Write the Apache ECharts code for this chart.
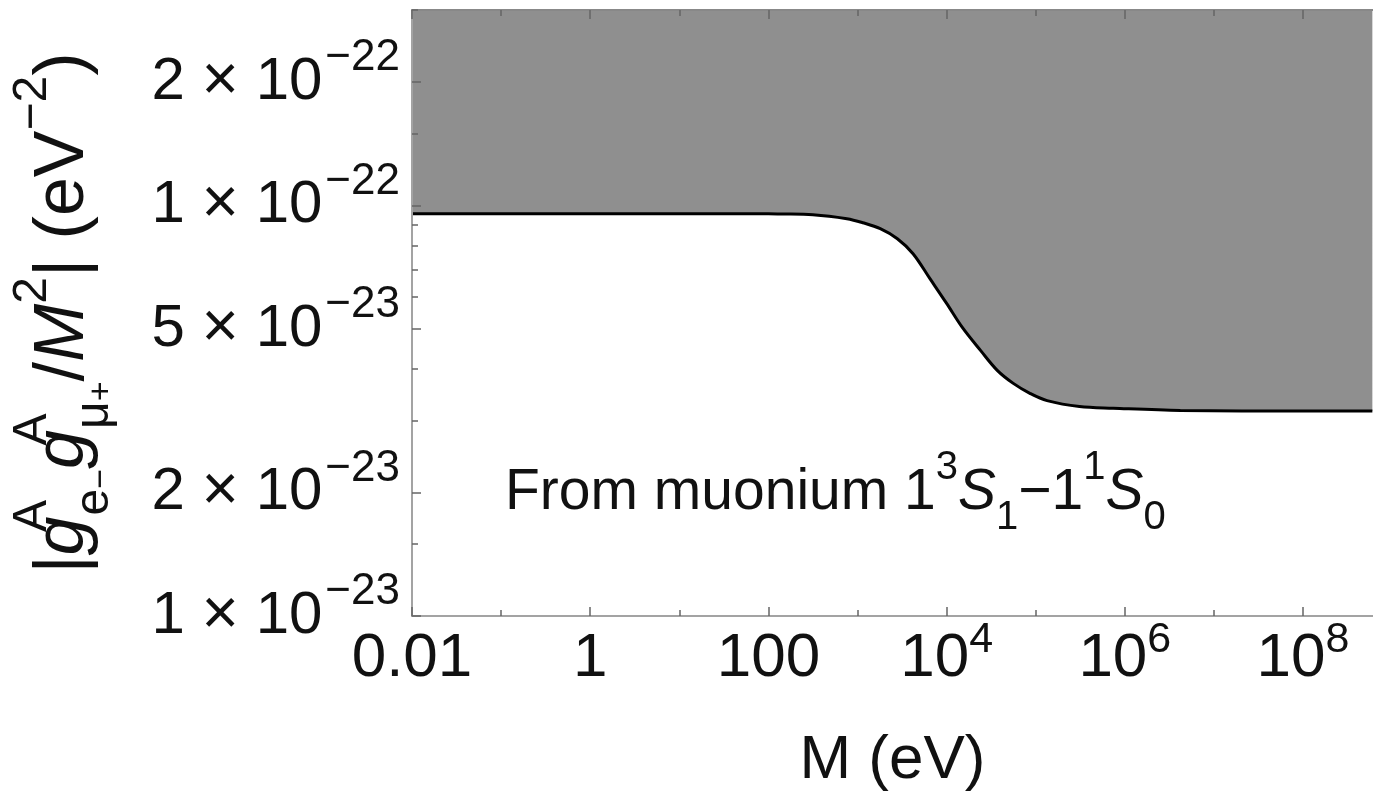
<!DOCTYPE html>
<html lang="en">
<head>
    <meta charset="UTF-8">
    <script src="https://cdn.jsdelivr.net/npm/echarts@6/dist/echarts.min.js"></script>
    <title>muonium bound</title>
    <style>
        html, body { margin: 0; padding: 0; background: #fff; }
    </style>
</head>
<body>
<div id="main" style="width: 1373px;height:804px;"></div>
<script type="text/javascript">
    // 曲线数据: M (eV) 和 |g g / M^2|, 单位 1e-23 eV^-2
    var massEV = [0.01, 1, 100, 135, 316, 760, 1150, 1800, 2800, 4200, 6500, 1.0e4, 1.5e4, 2.4e4,
        3.7e4, 5.6e4, 8.6e4, 1.34e5, 3.1e5, 7.4e5, 4.2e6, 1e8, 6e8];
    var boundE23 = [9.56, 9.56, 9.56, 9.55, 9.51, 9.30, 9.09, 8.79, 8.31,
        7.64, 6.64, 5.78, 5.05, 4.44, 3.97, 3.69, 3.49, 3.35,
        3.24, 3.21, 3.17, 3.16, 3.16];

    // 刻度
    var xMajor = [0.01, 1, 100, 1e4, 1e6, 1e8];
    var xMajorLabels = ['0.01', '1', '100', '10^4', '10^6', '10^8'];
    var xMinor = [0.1, 10, 1000, 1e5, 1e7];
    var yMajor = [1, 2, 5, 10, 20];              // 单位 1e-23
    var yMantissa = ['1', '2', '5', '1', '2'];
    var yExponent = ['\u221223', '\u221223', '\u221223', '\u221222', '\u221222'];
    var yMinor = [1.5, 3, 4, 6, 7, 8, 9, 15, 30];

    var xMin = 0.01, xMax = 6.1e8;
    var yMin = 1, yMax = 30;

    var font = 'Liberation Sans, Arial, sans-serif';
    var frameColor = '#a3a3a3';
    var tickColor = '#666';

    function findIndex(arr, v) {
        for (var i = 0; i < arr.length; i++) {
            if (Math.abs(arr[i] - v) / arr[i] < 1e-6) return i;
        }
        return -1;
    }

    var yRich = {
        n: {fontSize: 60, lineHeight: 92, fontFamily: font, color: '#111'},
        x: {fontSize: 64, lineHeight: 92, fontFamily: font, color: '#111'},
        s: {fontSize: 44, lineHeight: 44, verticalAlign: 'top', padding: [0, 0, 0, 3], fontFamily: font, color: '#111'}
    };
    var xRich = {
        n: {fontSize: 62, lineHeight: 80, fontFamily: font, color: '#111'},
        s: {fontSize: 43, lineHeight: 40, verticalAlign: 'top', fontFamily: font, color: '#111'}
    };

    function baseAxis(extra) {
        var a = {
            type: 'log',
            z: 5,
            axisLine: {show: false, onZero: false, lineStyle: {color: frameColor, width: 2}},
            axisTick: {show: true, inside: true, length: 9, lineStyle: {color: tickColor, width: 1.5}},
            axisLabel: {show: false},
            splitLine: {show: false},
            minorTick: {show: false}
        };
        for (var k in extra) a[k] = extra[k];
        return a;
    }

    var chart = echarts.init(document.getElementById('main'));

    var option = {
        animation: false,
        backgroundColor: '#fff',
        title: {
            left: 500,
            top: 443,
            text: 'From muonium 1{sup|3}{it|S}{sub|1}\u22121{sup|1}{it|S}{sub|0}',
            textStyle: {
                fontSize: 57, fontWeight: 'normal', fontFamily: font, color: '#111',
                lineHeight: 90,
                rich: {
                    sup: {fontSize: 40, lineHeight: 44, verticalAlign: 'top', fontFamily: font, color: '#111'},
                    sub: {fontSize: 40, lineHeight: 40, verticalAlign: 'bottom', fontFamily: font, color: '#111'},
                    it: {fontSize: 57, lineHeight: 90, fontStyle: 'italic', fontFamily: font, color: '#111'}
                }
            }
        },
        grid: {left: 412, top: 10, right: 0, bottom: 188, containLabel: false, outerBoundsMode: 'none'},
        xAxis: [
            baseAxis({
                position: 'bottom', min: xMin, max: xMax,
                axisLine: {show: true, onZero: false, lineStyle: {color: frameColor, width: 2}},
                axisTick: {show: true, inside: true, length: 9, customValues: xMajor, lineStyle: {color: tickColor, width: 1.5}},
                axisLabel: {
                    show: true, margin: 3, customValues: xMajor,
                    formatter: function (v) {
                        var s = xMajorLabels[findIndex(xMajor, v)];
                        if (s.indexOf('^') > 0) {
                            var p = s.split('^');
                            return '{n|' + p[0] + '}{s|' + p[1] + '}';
                        }
                        return '{n|' + s + '}';
                    },
                    rich: xRich
                },
                name: 'M (eV)', nameLocation: 'middle', nameGap: 114,
                nameTextStyle: {fontSize: 62, fontFamily: font, color: '#111', verticalAlign: 'top'}
            }),
            baseAxis({
                position: 'bottom', min: xMin, max: xMax,
                axisTick: {show: true, inside: true, length: 6, customValues: xMinor, lineStyle: {color: tickColor, width: 1.5}}
            }),
            baseAxis({
                position: 'top', min: xMin, max: xMax,
                axisLine: {show: true, onZero: false, lineStyle: {color: '#888', width: 2}},
                axisTick: {show: true, inside: true, length: 9, customValues: xMajor, lineStyle: {color: tickColor, width: 1.5}}
            }),
            baseAxis({
                position: 'top', min: xMin, max: xMax,
                axisTick: {show: true, inside: true, length: 6, customValues: xMinor, lineStyle: {color: tickColor, width: 1.5}}
            })
        ],
        yAxis: [
            baseAxis({
                position: 'left', min: yMin, max: yMax,
                axisLine: {show: true, onZero: false, lineStyle: {color: frameColor, width: 2}},
                axisTick: {show: true, inside: true, length: 9, customValues: yMajor, lineStyle: {color: tickColor, width: 1.5}},
                axisLabel: {
                    show: true, margin: 12, customValues: yMajor,
                    formatter: function (v) {
                        var i = findIndex(yMajor, v);
                        return '{n|' + yMantissa[i] + ' }{x|\u00d7}{n| 10}{s|' + yExponent[i] + '}';
                    },
                    rich: yRich
                },
                name: '|{it|g}{supw|A}{sub|e}{subm|\u2212}{it|g}{supw|A}{sub|\u03bc}{subp|+}/{it|M}{sup|2}| (eV{sup|\u22122})',
                nameLocation: 'middle', nameRotate: 90, nameGap: 293,
                nameTextStyle: {
                    fontSize: 70, fontFamily: font, color: '#111', lineHeight: 110,
                    rich: {
                        it: {fontSize: 70, lineHeight: 110, fontStyle: 'italic', fontFamily: font, color: '#111'},
                        sup: {fontSize: 48, lineHeight: 52, verticalAlign: 'top', fontFamily: font, color: '#111'},
                        supw: {fontSize: 48, lineHeight: 52, width: 1, verticalAlign: 'top', fontFamily: font, color: '#111'},
                        sub: {fontSize: 48, lineHeight: 44, verticalAlign: 'bottom', fontFamily: font, color: '#111'},
                        subm: {fontSize: 34, lineHeight: 78, verticalAlign: 'bottom', fontFamily: font, color: '#111'},
                        subp: {fontSize: 34, lineHeight: 78, verticalAlign: 'bottom', fontFamily: font, color: '#111'}
                    }
                }
            }),
            baseAxis({
                position: 'left', min: yMin, max: yMax,
                axisTick: {show: true, inside: true, length: 6, customValues: yMinor, lineStyle: {color: tickColor, width: 1.5}}
            })
        ],
        series: [{
            type: 'line',
            xAxisIndex: 0,
            yAxisIndex: 0,
            z: 2,
            data: massEV.map(function (m, i) { return [m, boundE23[i]]; }),
            showSymbol: false,
            smooth: 0.35,
            lineStyle: {color: '#000', width: 3},
            areaStyle: {origin: 'end', color: '#8f8f8f', opacity: 1}
        }]
    };

    chart.setOption(option);
</script>
</body>
</html>
